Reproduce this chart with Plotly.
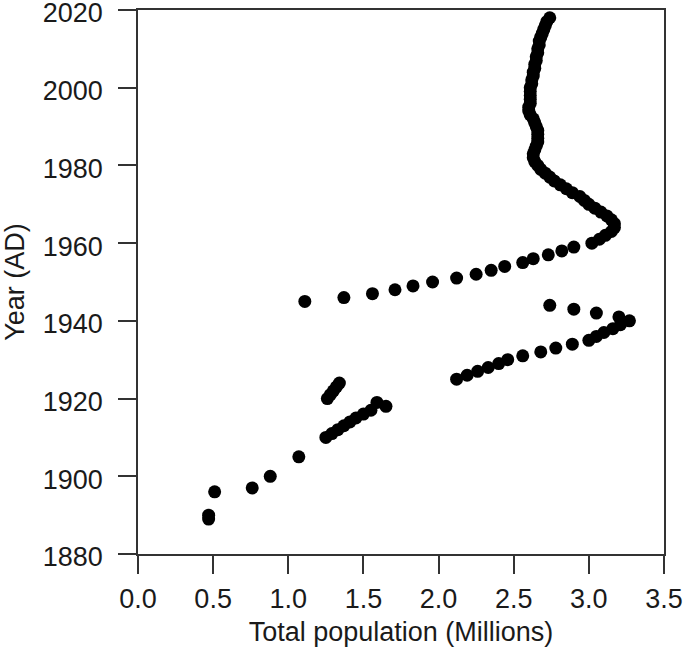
import plotly.graph_objects as go

years = [1889, 1890, 1896, 1897, 1900, 1905,
         1910, 1911, 1912, 1913, 1914, 1915, 1916, 1917, 1918, 1919,
         1920, 1921, 1922, 1923, 1924,
         1925, 1926, 1927, 1928, 1929, 1930, 1931, 1932, 1933, 1934,
         1935, 1936, 1937, 1938, 1939, 1940, 1941, 1942, 1943, 1944,
         1945, 1946, 1947, 1948, 1949, 1950, 1951, 1952, 1953, 1954,
         1955, 1956, 1957, 1958, 1959, 1960, 1961, 1962, 1963, 1964,
         1965, 1966, 1967, 1968, 1969, 1970, 1971, 1972, 1973, 1974,
         1975, 1976, 1977, 1978, 1979, 1980, 1981, 1982, 1983, 1984,
         1985, 1986, 1987, 1988, 1989, 1990, 1991, 1992, 1993, 1994,
         1995, 1996, 1997, 1998, 1999, 2000, 2001, 2002, 2003, 2004,
         2005, 2006, 2007, 2008, 2009, 2010, 2011, 2012, 2013, 2014,
         2015, 2016, 2017, 2018]

population_millions = [0.47, 0.47, 0.51, 0.76, 0.88, 1.07,
                       1.25, 1.29, 1.33, 1.37, 1.41, 1.45, 1.50, 1.55, 1.65, 1.59,
                       1.26, 1.28, 1.30, 1.32, 1.34,
                       2.12, 2.19, 2.26, 2.33, 2.40, 2.46, 2.56, 2.68, 2.78, 2.89,
                       3.00, 3.05, 3.10, 3.16, 3.21, 3.27, 3.20, 3.05, 2.90, 2.74,
                       1.11, 1.37, 1.56, 1.71, 1.83, 1.96, 2.12, 2.25, 2.35, 2.44,
                       2.56, 2.63, 2.73, 2.82, 2.90, 3.02, 3.07, 3.11, 3.15, 3.17,
                       3.17, 3.15, 3.12, 3.08, 3.04, 3.00, 2.97, 2.94, 2.89, 2.85,
                       2.81, 2.77, 2.74, 2.71, 2.68, 2.66, 2.64, 2.63, 2.63, 2.64,
                       2.65, 2.66, 2.66, 2.66, 2.66, 2.65, 2.64, 2.63, 2.61, 2.60,
                       2.60, 2.61, 2.61, 2.61, 2.61, 2.61, 2.62, 2.62, 2.63, 2.63,
                       2.64, 2.64, 2.65, 2.65, 2.66, 2.66, 2.67, 2.67, 2.68, 2.69,
                       2.70, 2.71, 2.72, 2.74]

x_ticks = [0.0, 0.5, 1.0, 1.5, 2.0, 2.5, 3.0, 3.5]
y_ticks = [1880, 1900, 1920, 1940, 1960, 1980, 2000, 2020]

FONT = "Liberation Sans, Arial, sans-serif"
INK = "#1a1a1a"
LINE = "#333333"

fig = go.Figure(go.Scatter(
    x=population_millions, y=years, mode="markers",
    marker=dict(size=13, color="black", line=dict(width=0)),
    hoverinfo="x+y", showlegend=False,
))

axis_common = dict(
    showline=True, mirror=True, linecolor=LINE, linewidth=1.5,
    ticks="outside", ticklen=18, tickwidth=1.5, tickcolor=LINE,
    showgrid=False, zeroline=False, ticklabeloverflow="allow",
    automargin=False,
    tickfont=dict(family=FONT, size=27, color=INK),
)

fig.update_layout(
    width=685, height=653,
    margin=dict(l=138, r=21, t=10, b=99),
    paper_bgcolor="white", plot_bgcolor="white",
    font=dict(family=FONT, size=27, color=INK),
    xaxis=dict(range=[0, 3.5], tickvals=x_ticks,
               ticktext=[f"{v:.1f}" for v in x_ticks],
               title=dict(text="Total population (Millions)",
                          font=dict(family=FONT, size=27, color=INK), standoff=9),
               ticklabelstandoff=2,
               **axis_common),
    yaxis=dict(range=[1880, 2020], tickvals=y_ticks,
               ticktext=[str(v) for v in y_ticks],
               title=dict(text="Year (AD)",
                          font=dict(family=FONT, size=27, color=INK), standoff=16),
               ticklabelstandoff=10, ticklabelshift=3,
               **axis_common),
)

# remove the browser's default 8px body margin so the 685x653 figure fills the window
fig.write_html("out.html",
               config={"displayModeBar": False},
               post_script="document.body.style.margin='0';document.body.style.overflow='hidden';")
